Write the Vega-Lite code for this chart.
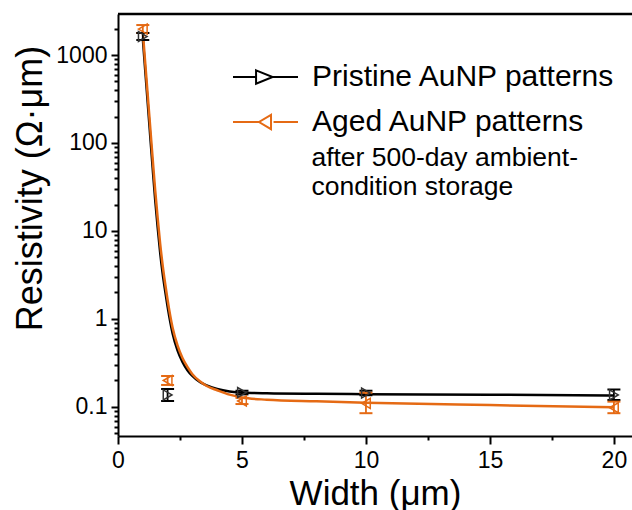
{
  "$schema": "https://vega.github.io/schema/vega-lite/v6.json",
  "width": 514,
  "height": 422,
  "autosize": {"type": "none"},
  "padding": {"left": 118, "top": 14, "right": 0, "bottom": 74},
  "config": {
    "font": "Liberation Sans",
    "view": {"stroke": null},
    "axis": {
      "grid": false,
      "domainColor": "#000",
      "domainWidth": 2,
      "tickColor": "#000",
      "tickWidth": 2,
      "labelFont": "Liberation Sans",
      "labelFontSize": 23,
      "labelColor": "#000",
      "labelOverlap": false,
      "labelFlush": false,
      "titleFont": "Liberation Sans",
      "titleFontSize": 35,
      "titleFontWeight": "normal",
      "titleColor": "#000"
    },
    "legend": {
      "orient": "none",
      "legendX": 123.5,
      "legendY": 39,
      "title": null,
      "padding": 0,
      "symbolSize": 2116,
      "symbolStrokeWidth": 2,
      "symbolOpacity": 1,
      "symbolFillColor": "transparent",
      "labelFontSize": 30,
      "labelFont": "Liberation Sans",
      "labelColor": "#000",
      "labelOffset": 22.5,
      "rowPadding": 6,
      "labelLimit": 400
    }
  },
  "datasets": {
    "points": [
      {"series": "Pristine AuNP patterns", "width": 1, "res": 1620, "lo": 1480, "hi": 1780},
      {"series": "Pristine AuNP patterns", "width": 2, "res": 0.137, "lo": 0.117, "hi": 0.16},
      {"series": "Pristine AuNP patterns", "width": 5, "res": 0.146, "lo": 0.139, "hi": 0.153},
      {"series": "Pristine AuNP patterns", "width": 10, "res": 0.144, "lo": 0.136, "hi": 0.153},
      {"series": "Pristine AuNP patterns", "width": 20, "res": 0.137, "lo": 0.12, "hi": 0.158},
      {"series": "Aged AuNP patterns", "width": 1, "res": 1970, "lo": 1780, "hi": 2190},
      {"series": "Aged AuNP patterns", "width": 2, "res": 0.2, "lo": 0.178, "hi": 0.225},
      {"series": "Aged AuNP patterns", "width": 5, "res": 0.117, "lo": 0.108, "hi": 0.127},
      {"series": "Aged AuNP patterns", "width": 10, "res": 0.11, "lo": 0.085, "hi": 0.145},
      {"series": "Aged AuNP patterns", "width": 20, "res": 0.098, "lo": 0.085, "hi": 0.115}
    ],
    "curves": [
      {"series": "Pristine AuNP patterns", "width": 1.0, "res": 1550},
      {"series": "Pristine AuNP patterns", "width": 1.1, "res": 660},
      {"series": "Pristine AuNP patterns", "width": 1.2, "res": 282},
      {"series": "Pristine AuNP patterns", "width": 1.3, "res": 120},
      {"series": "Pristine AuNP patterns", "width": 1.4, "res": 51},
      {"series": "Pristine AuNP patterns", "width": 1.5, "res": 22.5},
      {"series": "Pristine AuNP patterns", "width": 1.6, "res": 11},
      {"series": "Pristine AuNP patterns", "width": 1.7, "res": 5.7},
      {"series": "Pristine AuNP patterns", "width": 1.8, "res": 3.3},
      {"series": "Pristine AuNP patterns", "width": 1.9, "res": 2.1},
      {"series": "Pristine AuNP patterns", "width": 2.0, "res": 1.38},
      {"series": "Pristine AuNP patterns", "width": 2.2, "res": 0.69},
      {"series": "Pristine AuNP patterns", "width": 2.4, "res": 0.44},
      {"series": "Pristine AuNP patterns", "width": 2.6, "res": 0.325},
      {"series": "Pristine AuNP patterns", "width": 2.8, "res": 0.262},
      {"series": "Pristine AuNP patterns", "width": 3.0, "res": 0.225},
      {"series": "Pristine AuNP patterns", "width": 3.3, "res": 0.192},
      {"series": "Pristine AuNP patterns", "width": 3.6, "res": 0.175},
      {"series": "Pristine AuNP patterns", "width": 4.0, "res": 0.16},
      {"series": "Pristine AuNP patterns", "width": 4.5, "res": 0.15},
      {"series": "Pristine AuNP patterns", "width": 5, "res": 0.146},
      {"series": "Pristine AuNP patterns", "width": 6, "res": 0.143},
      {"series": "Pristine AuNP patterns", "width": 8, "res": 0.141},
      {"series": "Pristine AuNP patterns", "width": 10, "res": 0.14},
      {"series": "Pristine AuNP patterns", "width": 15, "res": 0.138},
      {"series": "Pristine AuNP patterns", "width": 20, "res": 0.135},
      {"series": "Aged AuNP patterns", "width": 1.0, "res": 1850},
      {"series": "Aged AuNP patterns", "width": 1.1, "res": 800},
      {"series": "Aged AuNP patterns", "width": 1.2, "res": 345},
      {"series": "Aged AuNP patterns", "width": 1.3, "res": 150},
      {"series": "Aged AuNP patterns", "width": 1.4, "res": 65},
      {"series": "Aged AuNP patterns", "width": 1.5, "res": 29},
      {"series": "Aged AuNP patterns", "width": 1.6, "res": 14},
      {"series": "Aged AuNP patterns", "width": 1.7, "res": 7.2},
      {"series": "Aged AuNP patterns", "width": 1.8, "res": 4.1},
      {"series": "Aged AuNP patterns", "width": 1.9, "res": 2.55},
      {"series": "Aged AuNP patterns", "width": 2.0, "res": 1.65},
      {"series": "Aged AuNP patterns", "width": 2.2, "res": 0.8},
      {"series": "Aged AuNP patterns", "width": 2.4, "res": 0.5},
      {"series": "Aged AuNP patterns", "width": 2.6, "res": 0.36},
      {"series": "Aged AuNP patterns", "width": 2.8, "res": 0.285},
      {"series": "Aged AuNP patterns", "width": 3.0, "res": 0.236},
      {"series": "Aged AuNP patterns", "width": 3.3, "res": 0.196},
      {"series": "Aged AuNP patterns", "width": 3.6, "res": 0.172},
      {"series": "Aged AuNP patterns", "width": 4.0, "res": 0.155},
      {"series": "Aged AuNP patterns", "width": 4.5, "res": 0.138},
      {"series": "Aged AuNP patterns", "width": 5, "res": 0.128},
      {"series": "Aged AuNP patterns", "width": 6, "res": 0.121},
      {"series": "Aged AuNP patterns", "width": 8, "res": 0.116},
      {"series": "Aged AuNP patterns", "width": 10, "res": 0.112},
      {"series": "Aged AuNP patterns", "width": 15, "res": 0.105},
      {"series": "Aged AuNP patterns", "width": 20, "res": 0.099}
    ],
    "legendItems": [
      {"series": "Pristine AuNP patterns"},
      {"series": "Aged AuNP patterns"}
    ],
    "one": [{}]
  },
  "layer": [
    {
      "data": {"name": "legendItems"},
      "mark": {"type": "point", "filled": false, "opacity": 0, "strokeWidth": 2},
      "encoding": {
        "shape": {
          "field": "series", "type": "nominal",
          "scale": {
            "domain": ["Pristine AuNP patterns", "Aged AuNP patterns"],
            "range": [
              "M-1.413,0L-0.41,0M0.31,0L1.413,0M-0.41,-0.29L0.31,0L-0.41,0.29Z",
              "M-1.413,0L-0.28,0M0.35,0L1.413,0M0.24,-0.31L-0.28,0L0.24,0.31Z"
            ]
          },
          "legend": {}
        },
        "color": {
          "field": "series", "type": "nominal",
          "scale": {"domain": ["Pristine AuNP patterns", "Aged AuNP patterns"], "range": ["#000000", "#E56A14"]},
          "legend": {}
        }
      }
    },
    {
      "data": {"name": "curves"},
      "mark": {"type": "line", "strokeWidth": 2.5, "interpolate": "monotone", "clip": true},
      "encoding": {
        "x": {
          "field": "width", "type": "quantitative",
          "scale": {"domain": [0, 20.73], "nice": false, "zero": false},
          "axis": {
            "title": "Width (μm)",
            "values": [0, 2.5, 5, 7.5, 10, 12.5, 15, 17.5, 20],
            "labelExpr": "datum.value % 5 === 0 ? format(datum.value, 'd') : ''",
            "tickSize": {"condition": {"test": "datum.value % 5 !== 0", "value": 4}, "value": 8},
            "labelPadding": 5,
            "titleY": 57,
            "titleBaseline": "middle"
          }
        },
        "y": {
          "field": "res", "type": "quantitative",
          "scale": {"type": "log", "domain": [0.0468, 2924], "nice": false},
          "axis": {
            "title": "Resistivity (Ω·μm)",
            "titleFontSize": 36,
            "values": [0.05, 0.06, 0.07, 0.08, 0.09, 0.1, 0.2, 0.3, 0.4, 0.5, 0.6, 0.7, 0.8, 0.9, 1, 2, 3, 4, 5, 6, 7, 8, 9, 10, 20, 30, 40, 50, 60, 70, 80, 90, 100, 200, 300, 400, 500, 600, 700, 800, 900, 1000, 2000],
            "labelExpr": "datum.value == 0.1 || datum.value == 1 || datum.value == 10 || datum.value == 100 || datum.value == 1000 ? format(datum.value, '~g') : ''",
            "tickSize": {"condition": {"test": "datum.value == 0.1 || datum.value == 1 || datum.value == 10 || datum.value == 100 || datum.value == 1000", "value": 7}, "value": 4},
            "labelPadding": 4,
            "titleX": -88,
            "titleY": 174,
            "titleBaseline": "middle"
          }
        },
        "color": {"field": "series", "type": "nominal"}
      }
    },
    {
      "data": {"name": "one"},
      "mark": {"type": "rule", "strokeWidth": 2.5, "color": "#000"},
      "encoding": {
        "x": {"datum": 0, "type": "quantitative"},
        "x2": {"datum": 20.73},
        "y": {"datum": 2924, "type": "quantitative"}
      }
    },
    {
      "data": {"name": "points"},
      "mark": {"type": "rule", "strokeWidth": 1.8},
      "encoding": {
        "x": {"field": "width", "type": "quantitative"},
        "y": {"field": "lo", "type": "quantitative"},
        "y2": {"field": "hi"},
        "color": {"field": "series", "type": "nominal"}
      }
    },
    {
      "data": {"name": "points"},
      "mark": {"type": "point", "shape": "stroke", "filled": false, "size": 169, "strokeWidth": 2, "opacity": 1},
      "encoding": {
        "x": {"field": "width", "type": "quantitative"},
        "y": {"field": "lo", "type": "quantitative"},
        "color": {"field": "series", "type": "nominal"}
      }
    },
    {
      "data": {"name": "points"},
      "mark": {"type": "point", "shape": "stroke", "filled": false, "size": 169, "strokeWidth": 2, "opacity": 1},
      "encoding": {
        "x": {"field": "width", "type": "quantitative"},
        "y": {"field": "hi", "type": "quantitative"},
        "color": {"field": "series", "type": "nominal"}
      }
    },
    {
      "data": {"name": "points"},
      "transform": [{"filter": "datum.series === 'Pristine AuNP patterns'"}],
      "mark": {"type": "point", "shape": "triangle-right", "filled": false, "size": 100, "strokeWidth": 1.5, "color": "#333333", "opacity": 1},
      "encoding": {
        "x": {"field": "width", "type": "quantitative"},
        "y": {"field": "res", "type": "quantitative"}
      }
    },
    {
      "data": {"name": "points"},
      "transform": [{"filter": "datum.series === 'Aged AuNP patterns'"}],
      "mark": {"type": "point", "shape": "triangle-left", "filled": false, "size": 100, "strokeWidth": 1.5, "color": "#E56A14", "opacity": 1},
      "encoding": {
        "x": {"field": "width", "type": "quantitative"},
        "y": {"field": "res", "type": "quantitative"}
      }
    },
    {
      "data": {"name": "one"},
      "mark": {"type": "text", "text": "after 500-day ambient-", "align": "left", "baseline": "middle", "fontSize": 26.5, "font": "Liberation Sans", "color": "#000"},
      "encoding": {
        "x": {"datum": 7.8, "type": "quantitative"},
        "y": {"datum": 67.6, "type": "quantitative"}
      }
    },
    {
      "data": {"name": "one"},
      "mark": {"type": "text", "text": "condition storage", "align": "left", "baseline": "middle", "fontSize": 26.5, "font": "Liberation Sans", "color": "#000"},
      "encoding": {
        "x": {"datum": 7.8, "type": "quantitative"},
        "y": {"datum": 31.6, "type": "quantitative"}
      }
    }
  ]
}
